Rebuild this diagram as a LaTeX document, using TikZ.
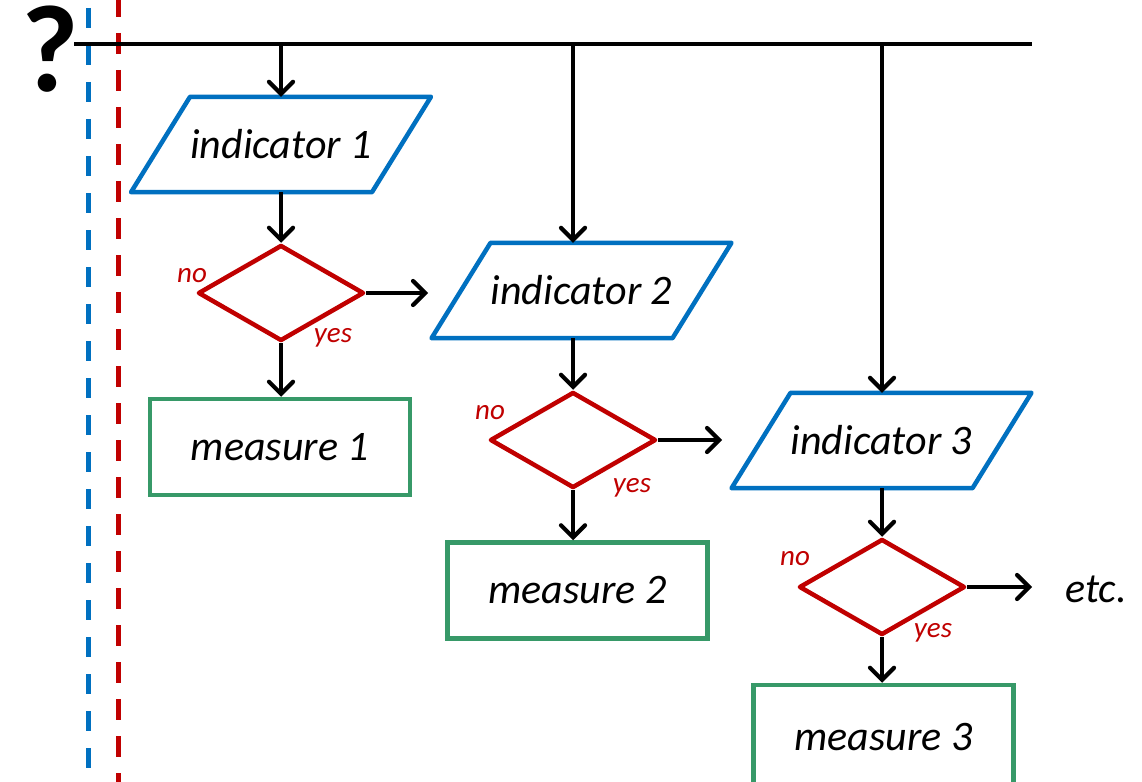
\documentclass[tikz,border=0pt]{standalone}
\usepackage{fontspec}
\setmainfont{Carlito}
\usetikzlibrary{arrows.meta,shapes.geometric}
\definecolor{cblue}{RGB}{0,112,192}
\definecolor{cred}{RGB}{192,0,0}
\definecolor{cgreen}{RGB}{55,153,104}
\begin{document}
\begin{tikzpicture}[x=1pt,y=-1pt,
 txt/.style={font=\fontsize{42}{44}\selectfont\itshape},
 para/.style={txt, minimum width=177pt, minimum height=95pt, inner sep=0pt},
 paraline/.style={draw=cblue, line width=4.5pt, line join=round},
 dec/.style={diamond, draw=cred, line width=4.5pt, line join=round, inner sep=0pt, minimum width=166pt, minimum height=96pt},
 meas/.style={txt, draw=cgreen, line width=4.5pt, minimum width=260pt, minimum height=96pt, inner sep=0pt},
 arr/.style={line width=4.2pt, -{Straight Barb[length=12pt,width=24pt,line cap=round]}},
 lbl/.style={text=cred, font=\fontsize{29}{31}\selectfont\itshape, inner sep=0pt},
]
\useasboundingbox (0,0) rectangle (1142,781);
\fill[white] (0,0) rectangle (1142,781);

% dashed verticals
\draw[cblue, line width=5pt, dash pattern=on 20pt off 17pt] (88,8) -- (88,820);
\draw[cred, line width=5pt, dash pattern=on 21pt off 16pt] (118,-4) -- (118,820);

% question mark and main line
\node[font=\fontsize{124}{124}\selectfont\bfseries, inner sep=0pt, anchor=base] (q) at (50,92) {?};
\coordinate (ml) at (74,44);
\coordinate (mr) at (1032,44);
\draw[line width=3.8pt] (ml) -- (mr);

% indicators
\node[para] (i1) at (281,144.5) {indicator 1};
\draw[paraline] (i1.north west) -- ([xshift=59pt]i1.north east) -- (i1.south east) -- ([xshift=-59pt]i1.south west) -- cycle;
\node[para] (i2) at (581.5,290.5) {indicator 2};
\draw[paraline] (i2.north west) -- ([xshift=59pt]i2.north east) -- (i2.south east) -- ([xshift=-59pt]i2.south west) -- cycle;
\node[para] (i3) at (881.5,440.5) {indicator 3};
\draw[paraline] (i3.north west) -- ([xshift=59pt]i3.north east) -- (i3.south east) -- ([xshift=-59pt]i3.south west) -- cycle;

% decisions
\node[dec] (d1) at (281,293) {};
\node[dec] (d2) at (573,440) {};
\node[dec] (d3) at (882,587) {};

% measures
\node[meas] (m1) at (280,447) {measure 1};
\node[meas] (m2) at (577.5,590.5) {measure 2};
\node[meas, minimum height=104pt] (m3) at (883.5,737) {measure 3};

% labels
\node[lbl] (no1) at (192,276) {no};
\node[lbl] (no2) at (490,413) {no};
\node[lbl] (no3) at (795,559) {no};
\node[lbl] (yes1) at (333,338) {yes};
\node[lbl] (yes2) at (632,488) {yes};
\node[lbl] (yes3) at (933,633) {yes};
\node[txt, inner sep=0pt] (etc) at (1096,589) {etc.};

% free ends
\coordinate (n1) at (428,293);
\coordinate (n2) at (722,440);
\coordinate (n3) at (1032,587);

% connectors
\draw[arr] (i1.north |- ml) -- (i1.north);
\draw[arr] (i1.south) -- (d1.north);
\draw[arr] (d1.south) -- (d1.south |- m1.north);
\draw[arr] (d1.east) -- (n1);

\draw[arr] (d2.north |- ml) -- (d2.north |- i2.north);
\draw[arr] (d2.north |- i2.south) -- (d2.north);
\draw[arr] (d2.south) -- (d2.south |- m2.north);
\draw[arr] (d2.east) -- (n2);

\draw[arr] (d3.north |- ml) -- (d3.north |- i3.north);
\draw[arr] (d3.north |- i3.south) -- (d3.north);
\draw[arr] (d3.south) -- (d3.south |- m3.north);
\draw[arr] (d3.east) -- (n3);
\end{tikzpicture}
\end{document}
